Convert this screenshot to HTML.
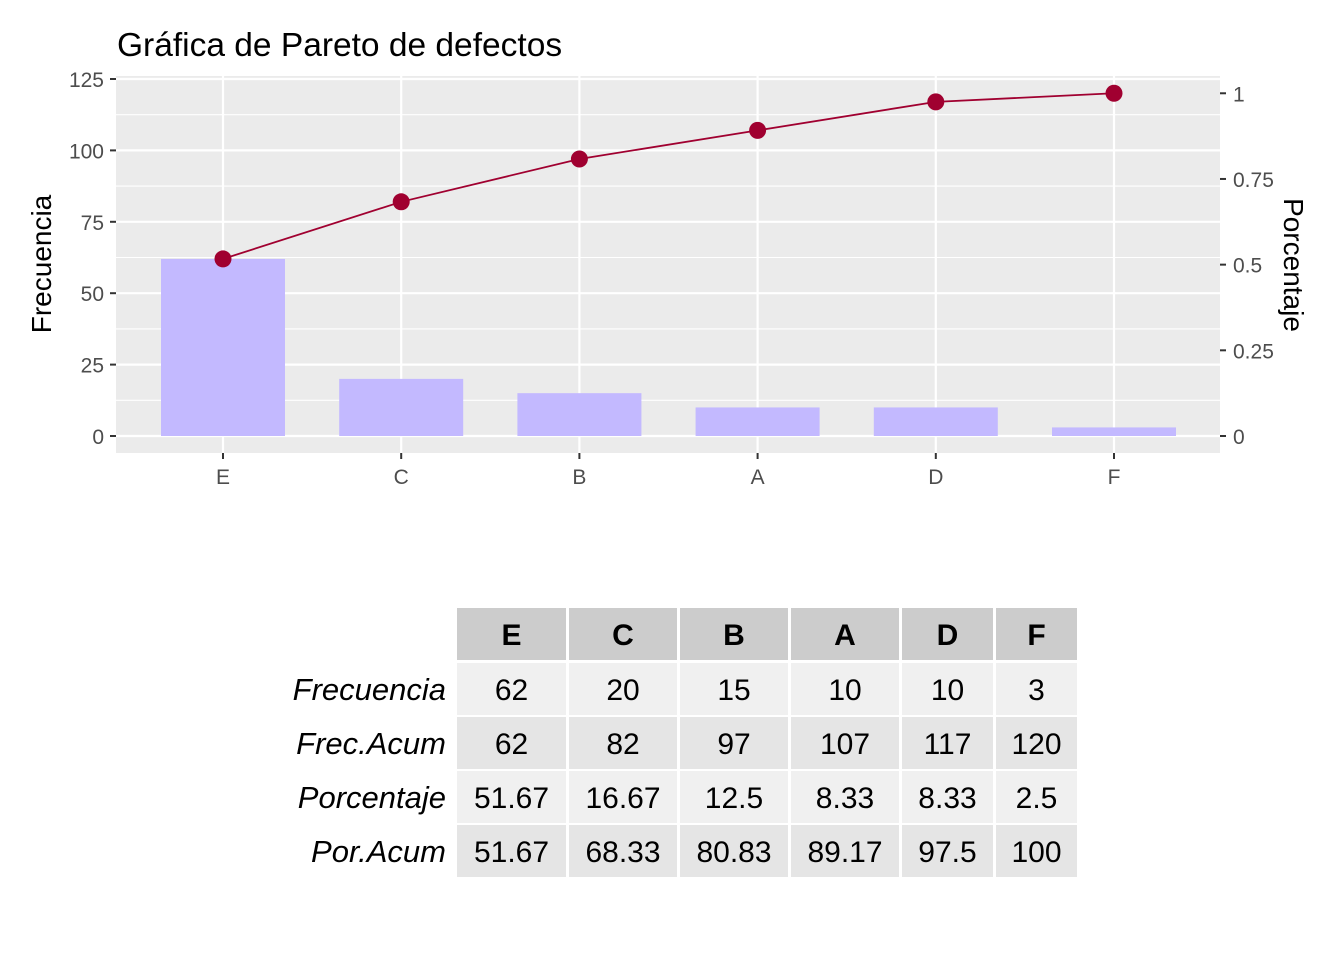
<!DOCTYPE html>
<html><head><meta charset="utf-8"><style>body{margin:0;background:#fff}svg{display:block;font-family:"Liberation Sans",Arial,sans-serif}</style></head>
<body>
<svg id="chart" width="1344" height="960" viewBox="0 0 1344 960" xmlns="http://www.w3.org/2000/svg">
<rect width="1344" height="960" fill="#fff"/>
<text x="117" y="56" font-size="33.5" fill="#000">Gráfica de Pareto de defectos</text>
<rect x="116" y="76" width="1104" height="377" fill="#ebebeb"/>
<g id="grid"></g><g id="bars"></g><g id="line"></g><g id="axes"></g><g id="table"></g>
<text transform="translate(51,264) rotate(-90)" text-anchor="middle" font-size="28">Frecuencia</text>
<text transform="translate(1284,265) rotate(90)" text-anchor="middle" font-size="28">Porcentaje</text>
</svg>
<script>
const categories=["E","C","B","A","D","F"];
const freq=[62,20,15,10,10,3];
const freqAcum=[62,82,97,107,117,120];
const pct=["51.67","16.67","12.5","8.33","8.33","2.5"];
const pctAcum=["51.67","68.33","80.83","89.17","97.5","100"];
const yTicks=[0,25,50,75,100,125];
const y2Ticks=[0,0.25,0.5,0.75,1];
const y2Labels=["0","0.25","0.5","0.75","1"];
const total=120;
const NS="http://www.w3.org/2000/svg";
const X=i=>223+i*178.2, Y=v=>436-v*2.856;
function mk(p,t,a){const e=document.createElementNS(NS,t);for(const k in a)e.setAttribute(k,a[k]);document.getElementById(p).appendChild(e);return e;}
yTicks.forEach((v,i)=>{
 if(i<yTicks.length-1){const m=mk('grid','line',{x1:116,x2:1220,y1:Y(v+12.5),y2:Y(v+12.5),stroke:'#fff','stroke-width':1.1});
 }
 const g=mk('grid','line',{x1:116,x2:1220,y1:Y(v),y2:Y(v),stroke:'#fff','stroke-width':2.2});
 
 const t=mk('axes','line',{x1:110,x2:116,y1:Y(v),y2:Y(v),stroke:'#333','stroke-width':2});
 
 const l=mk('axes','text',{x:104,y:Y(v)+8,'text-anchor':'end','font-size':21,fill:'#4d4d4d'});l.textContent=v;
 
});
y2Ticks.forEach((v,i)=>{
 const y=Y(v*total);
 const t=mk('axes','line',{x1:1220,x2:1226,y1:y,y2:y,stroke:'#333','stroke-width':2});
 
 const l=mk('axes','text',{x:1233,y:y+8,'font-size':21,fill:'#4d4d4d'});l.textContent=y2Labels[i];
 
});
categories.forEach((c,i)=>{
 const g=mk('grid','line',{x1:X(i),x2:X(i),y1:76,y2:453,stroke:'#fff','stroke-width':2.2});
 
 const b=mk('bars','rect',{x:X(i)-62,y:Y(freq[i]),width:124,height:Y(0)-Y(freq[i]),fill:'#c3b9ff'});
 
 const t=mk('axes','line',{x1:X(i),x2:X(i),y1:453,y2:459,stroke:'#333','stroke-width':2});
 
 const l=mk('axes','text',{x:X(i),y:484,'text-anchor':'middle','font-size':21,fill:'#4d4d4d'});l.textContent=c;
 
});
const pl=mk('line','polyline',{points:freqAcum.map((v,i)=>X(i)+','+Y(v)).join(' '),fill:'none',stroke:'#a00030','stroke-width':1.8});

freqAcum.forEach((v,i)=>{const p=mk('line','circle',{cx:X(i),cy:Y(v),r:8.5,fill:'#a00030'});
 });
const colX=[457,569,680,791,902,996], colW=[109,108,108,108,91,81];
const rowY=[608,663,717,771,825], rowH=52;
const rowNames=["Frecuencia","Frec.Acum","Porcentaje","Por.Acum"];
const rows=[freq,freqAcum,pct,pctAcum];
const fills=['#cccccc','#f0f0f0','#e5e5e5','#f0f0f0','#e5e5e5'];
for(let r=0;r<5;r++){
 if(r>0){const lab=mk('table','text',{x:446,y:rowY[r]+37,'text-anchor':'end','font-size':31,'font-style':'italic'});lab.textContent=rowNames[r-1];
 }
 for(let c=0;c<6;c++){
  const cell=mk('table','rect',{x:colX[c],y:rowY[r],width:colW[c],height:rowH,fill:fills[r]});
  
  const t=mk('table','text',{x:colX[c]+colW[c]/2,y:rowY[r]+37,'text-anchor':'middle','font-size':30,'font-weight':r==0?'bold':'normal'});
  t.textContent=r==0?categories[c]:rows[r-1][c];
  
 }
}
</script>
</body></html>
